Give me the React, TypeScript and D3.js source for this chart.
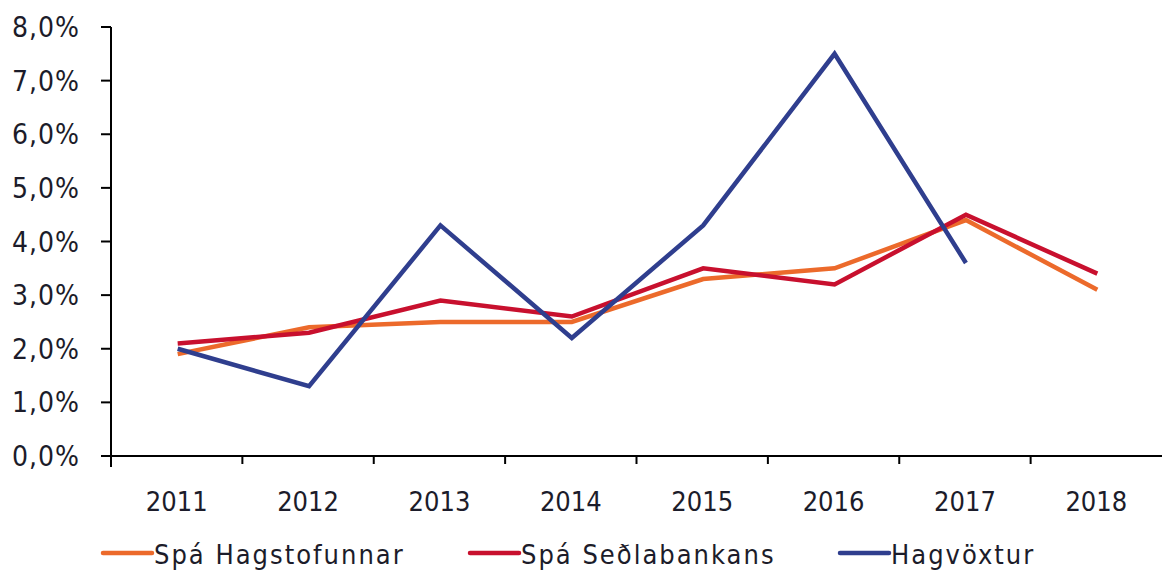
import React from "react";
import * as d3 from "d3";

const years = ["2011", "2012", "2013", "2014", "2015", "2016", "2017", "2018"];
const hagstofan = [1.9, 2.4, 2.5, 2.5, 3.3, 3.5, 4.4, 3.1];
const sedlabanki = [2.1, 2.3, 2.9, 2.6, 3.5, 3.2, 4.5, 3.4];
const hagvoxtur = [2.0, 1.3, 4.3, 2.2, 4.3, 7.5, 3.6, null];
const yTicks = [0, 1, 2, 3, 4, 5, 6, 7, 8];

const seriesNames = ["Spá Hagstofunnar", "Spá Seðlabankans", "Hagvöxtur"];
const seriesColors = ["#EC6A2B", "#C8102E", "#2F3E8E"];

const W = 1162, H = 570;
const left = 111, right = 1162, top = 27, bottom = 456;
const FONT = "'DejaVu Sans Condensed', 'DejaVu Sans', sans-serif";
const TEXT = "#1c1c2a";

export default function App() {
  const x = d3.scaleBand<string>().domain(years).range([left, right]);
  const y = d3.scaleLinear().domain([0, 8]).range([bottom, top]);
  const fmt = (v: number) => v.toFixed(1).replace(".", ",") + "%";
  const data = [hagstofan, sedlabanki, hagvoxtur];
  const line = d3
    .line<number | null>()
    .defined((d) => d !== null)
    .x((_, i) => (x(years[i]) as number) + x.bandwidth() / 2 + 1)
    .y((d) => y(d as number));

  const legendX = [103, 470, 840];

  return (
    <svg width={W} height={H} style={{ position: "absolute", left: 0, top: 0, background: "#fff" }}>
      {/* y axis */}
      <line x1={left} x2={left} y1={y(8)} y2={bottom + 11} stroke="#000" strokeWidth={2} />
      {yTicks.map((t) => (
        <g key={t}>
          <line x1={left - 10} x2={left} y1={y(t)} y2={y(t)} stroke="#000" strokeWidth={2} />
          <text x={80} y={y(t)} dy="0.36em" textAnchor="end" fontFamily={FONT} fontSize={28} fill={TEXT} letterSpacing={1}>
            {fmt(t)}
          </text>
        </g>
      ))}
      {/* x axis */}
      <line x1={left - 10} x2={right} y1={bottom} y2={bottom} stroke="#000" strokeWidth={2} />
      {years.slice(1).map((yr) => (
        <line key={yr} x1={x(yr)} x2={x(yr)} y1={bottom} y2={bottom + 8} stroke="#000" strokeWidth={2} />
      ))}
      {years.map((yr) => (
        <text key={yr} x={(x(yr) as number) + x.bandwidth() / 2} y={511} textAnchor="middle" fontFamily={FONT} fontSize={27} fill={TEXT}>
          {yr}
        </text>
      ))}
      {/* lines */}
      {data.map((d, i) => (
        <path key={i} d={line(d) || ""} fill="none" stroke={seriesColors[i]} strokeWidth={4.5} strokeLinejoin="miter" />
      ))}
      {/* legend */}
      {seriesNames.map((n, i) => (
        <g key={n}>
          <line x1={legendX[i]} x2={legendX[i] + 49} y1={553} y2={553} stroke={seriesColors[i]} strokeWidth={4.5} strokeLinecap="round" />
          <text x={legendX[i] + 51} y={564} fontFamily={FONT} fontSize={27} fill={TEXT} letterSpacing={2}>
            {n}
          </text>
        </g>
      ))}
    </svg>
  );
}
